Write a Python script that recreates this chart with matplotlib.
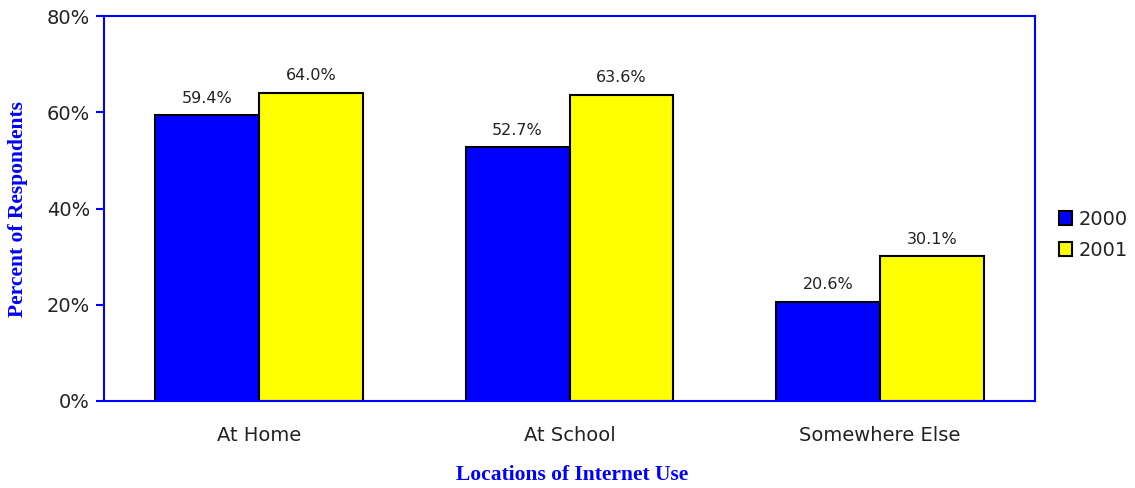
import matplotlib
matplotlib.use("Agg")
import matplotlib.pyplot as plt
import numpy as np

plt.rcParams["font.family"] = ["DejaVu Sans"]

categories = ["At Home", "At School", "Somewhere Else"]
series_names = ["2000", "2001"]
values_2000 = [59.4, 52.7, 20.6]
values_2001 = [64.0, 63.6, 30.1]
colors = ["#0000FF", "#FFFF00"]

fig = plt.figure(figsize=(11.35, 4.88), dpi=100)
ax = fig.add_axes([104/1135, 87/488, 931/1135, 385/488])

x = np.arange(len(categories))
w = 0.335
b1 = ax.bar(x - w/2, values_2000, w, color=colors[0], edgecolor="black", linewidth=1.5, label=series_names[0])
b2 = ax.bar(x + w/2, values_2001, w, color=colors[1], edgecolor="black", linewidth=1.5, label=series_names[1])

for bars, vals in ((b1, values_2000), (b2, values_2001)):
    for r, v in zip(bars, vals):
        ax.text(r.get_x() + r.get_width()/2, v + 2.0, f"{v:.1f}%", ha="center", va="bottom",
                fontsize=11.5, color="#222222")

ax.set_xlim(-0.5, 2.5)
ax.set_ylim(0, 80)
ax.set_yticks([0, 20, 40, 60, 80])
ax.set_yticklabels([f"{t}%" for t in [0, 20, 40, 60, 80]], fontsize=14, color="#222222")
ax.set_xticks(x)
ax.set_xticklabels(categories, fontsize=14, color="#222222")
ax.tick_params(axis="x", length=0, pad=18)
ax.tick_params(axis="y", length=6, width=1.5, color="#0000FF", direction="out", pad=4)
for s in ax.spines.values():
    s.set_color("#0000FF")
    s.set_linewidth(1.5)

fig.text(18/1135, 1 - 209/488, "Percent of Respondents", fontsize=15.5, fontweight="bold",
         family="Liberation Serif", color="#0000FF", rotation=90, ha="center", va="center")
fig.text(572/1135, 1 - 475/488, "Locations of Internet Use", fontsize=15.5, fontweight="bold",
         family="Liberation Serif", color="#0000FF", ha="center", va="center")

leg = fig.legend(handles=[b1, b2], labels=series_names, loc="upper left", bbox_to_anchor=(1059/1135, 1 - 210/488),
                 frameon=False, fontsize=14, handlelength=0.65, handleheight=0.7, handletextpad=0.35,
                 labelspacing=0.62, borderaxespad=0, borderpad=0)
for t in leg.get_texts():
    t.set_color("#222222")

fig.savefig("out.png", dpi=100)
